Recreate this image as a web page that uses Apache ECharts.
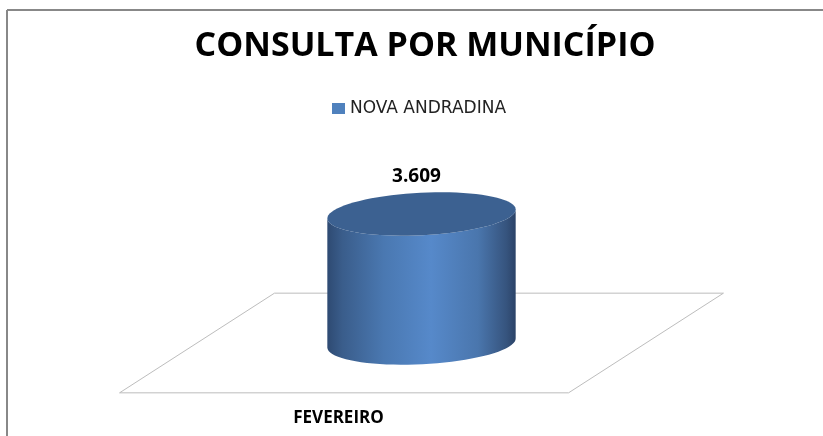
<!DOCTYPE html>
<html>
<head>
    <meta charset="utf-8">
    <title>Consulta por município</title>
    <script src="https://cdn.jsdelivr.net/npm/echarts@6/dist/echarts.min.js"></script>
    <style>
        html, body { margin: 0; padding: 0; background: #fff; }
        #chart { width: 823px; height: 436px; }
    </style>
</head>
<body>
<div id="chart"></div>
<script type="text/javascript">
    // dados do gráfico
    var meses = ['FEVEREIRO'];
    var municipio = 'NOVA ANDRADINA';
    var consultas = [3609];

    // 3609 -> "3.609"
    function fmt(v) {
        return String(v).replace(/\B(?=(\d{3})+(?!\d))/g, '.');
    }

    // pontos de uma elipse girada, de t0 a t1
    function elipse(cx, cy, a, b, rot, t0, t1, n) {
        var pts = [];
        for (var i = 0; i <= n; i++) {
            var t = t0 + (t1 - t0) * i / n;
            var x = a * Math.cos(t), y = b * Math.sin(t);
            pts.push([cx + x * Math.cos(rot) - y * Math.sin(rot), cy + x * Math.sin(rot) + y * Math.cos(rot)]);
        }
        return pts;
    }

    var myChart = echarts.init(document.getElementById('chart'));

    myChart.setOption({
        backgroundColor: '#fff',
        animation: false,
        title: {
            text: 'CONSULTA POR MUNICÍPIO',
            left: 420,
            textAlign: 'center',
            top: 24,
            textStyle: { fontFamily: 'Open Sans', fontWeight: 'bold', fontSize: 34, color: '#000' }
        },
        legend: {
            data: [municipio],
            icon: 'rect',
            left: 327,
            top: 95,
            itemWidth: 13,
            itemHeight: 11,
            textStyle: { fontFamily: 'DejaVu Sans', fontSize: 17, color: '#222' }
        },
        grid: { left: 197, right: 177, top: 200, bottom: 93 },
        xAxis: {
            type: 'category',
            data: meses,
            axisLine: { show: false },
            axisTick: { show: false },
            axisLabel: {
                margin: 67,
                fontFamily: 'Open Sans',
                fontWeight: 'bold',
                fontSize: 17,
                color: '#000',
                padding: [0, 166, 0, 0]
            }
        },
        yAxis: { type: 'value', min: 0, max: 4000, show: false },
        graphic: [
            { type: 'line', shape: { x1: 7, y1: 10, x2: 823, y2: 10 }, style: { stroke: '#888', lineWidth: 2 } },
            { type: 'line', shape: { x1: 7, y1: 10, x2: 7, y2: 436 }, style: { stroke: '#888', lineWidth: 2 } }
        ],
        series: [{
            name: municipio,
            type: 'custom',
            itemStyle: { color: '#4f81bd' },
            data: consultas.map(function (v, i) { return [i, v]; }),
            renderItem: function (params, api) {
                var base = api.coord([api.value(0), 0]);
                var top = api.coord([api.value(0), api.value(1)]);
                var bw = api.size([1, 0])[0];
                var cx = base[0];
                var half = bw / 2, shear = bw * 0.1725, depth = bw * 0.111;
                var a = bw * 0.21, b = a * 0.225, rot = -0.05;

                var piso = [
                    [cx - half + shear, base[1] - depth],
                    [cx + half + shear, base[1] - depth],
                    [cx + half - shear, base[1] + depth],
                    [cx - half - shear, base[1] + depth]
                ];

                var lado = elipse(cx, base[1], a, b, rot, Math.PI, 0, 40)
                    .concat(elipse(cx, top[1], a, b, rot, 0, Math.PI, 40));
                var tampa = elipse(cx, top[1], a, b, rot, 0, Math.PI * 2, 80);

                return {
                    type: 'group',
                    children: [
                        {
                            type: 'polygon',
                            shape: { points: piso },
                            style: { fill: '#fff', stroke: '#bdbdbd', lineWidth: 1 }
                        },
                        {
                            type: 'polygon',
                            shape: { points: lado },
                            style: {
                                fill: new echarts.graphic.LinearGradient(0, 0, 1, 0, [
                                    { offset: 0, color: '#2e4a72' },
                                    { offset: 0.08, color: '#3a5d8b' },
                                    { offset: 0.3, color: '#4a78b1' },
                                    { offset: 0.55, color: '#5689ca' },
                                    { offset: 0.8, color: '#4a76ad' },
                                    { offset: 0.95, color: '#36547e' },
                                    { offset: 1, color: '#2b4368' }
                                ])
                            }
                        },
                        {
                            type: 'polygon',
                            shape: { points: tampa },
                            style: { fill: '#3c6191' }
                        },
                        {
                            type: 'text',
                            x: top[0] - 5,
                            y: top[1] - 37,
                            style: {
                                text: fmt(api.value(1)),
                                fontFamily: 'Open Sans',
                                fontWeight: 'bold',
                                fontSize: 19,
                                fill: '#000',
                                align: 'center',
                                verticalAlign: 'middle'
                            }
                        }
                    ]
                };
            }
        }]
    });
</script>
</body>
</html>
